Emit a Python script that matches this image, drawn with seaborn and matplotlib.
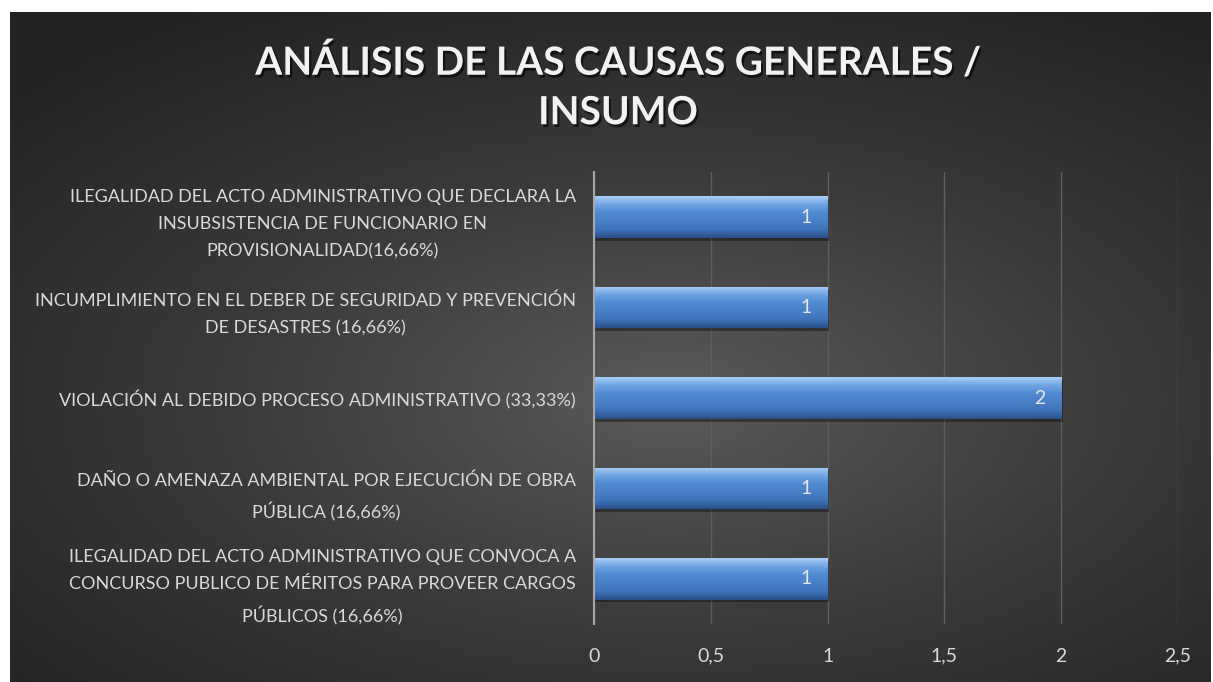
import numpy as np
import pandas as pd
import seaborn as sns
import matplotlib.pyplot as plt
import matplotlib.patheffects as pe
from matplotlib.colors import LinearSegmentedColormap

# Data
causas = [
    "ILEGALIDAD DEL ACTO ADMINISTRATIVO QUE DECLARA LA\nINSUBSISTENCIA DE FUNCIONARIO EN\nPROVISIONALIDAD(16,66%)",
    "INCUMPLIMIENTO EN EL DEBER DE SEGURIDAD Y PREVENCIÓN\nDE DESASTRES (16,66%)",
    "VIOLACIÓN AL DEBIDO PROCESO ADMINISTRATIVO (33,33%)",
    "DAÑO O AMENAZA AMBIENTAL POR EJECUCIÓN DE OBRA\nPÚBLICA (16,66%)",
    "ILEGALIDAD DEL ACTO ADMINISTRATIVO QUE CONVOCA A\nCONCURSO PUBLICO DE MÉRITOS PARA PROVEER CARGOS\nPÚBLICOS (16,66%)",
]
cantidad = [1, 1, 2, 1, 1]
x_ticks = [0, 0.5, 1, 1.5, 2, 2.5]
x_tick_labels = ["0", "0,5", "1", "1,5", "2", "2,5"]
titulo = "ANÁLISIS DE LAS CAUSAS GENERALES /\nINSUMO"

df = pd.DataFrame({"causa": causas, "cantidad": cantidad})

sns.set_theme(style="dark")
plt.rcParams["font.family"] = ["Lato", "DejaVu Sans"]
text_col = "#d9d9d9"

W, H = 1213, 682
fig = plt.figure(figsize=(W / 100, H / 100), dpi=100, facecolor="white")

# dark radial gradient background of the chart area
bg_ax = fig.add_axes([10 / W, 0, 1201 / W, 670 / H], zorder=-10)
yy, xx = np.mgrid[0:1:300j, 0:1:500j]
dist = np.sqrt(((xx - 0.55) * 1.0) ** 2 + ((yy - 0.58) * 1.1) ** 2)
dist = np.clip(dist / 0.75, 0, 1)
bg_cmap = LinearSegmentedColormap.from_list("bg", ["#5a5a5a", "#3a3a3a", "#232323"])
bg_ax.imshow(dist, cmap=bg_cmap, aspect="auto", extent=(0, 1, 0, 1), origin="upper")
bg_ax.set_axis_off()

ax = fig.add_axes([594 / W, 1 - 624 / H, (1178 - 594) / W, (624 - 172) / H])
ax.set_facecolor("none")

sns.barplot(data=df, x="cantidad", y="causa", orient="h", width=0.46,
            color="#4f86cf", ax=ax, zorder=3)

ax.set_xlim(0, 2.5)
xlim = ax.get_xlim()
ylim = ax.get_ylim()

# blue bevel-like gradient inside each bar
bar_cmap = LinearSegmentedColormap.from_list(
    "bar", ["#a9cff7", "#6fa3e3", "#5089d2", "#4a80c8", "#3e72b9", "#2a5089"])
grad = np.linspace(0, 1, 100).reshape(-1, 1)
for i, patch in enumerate(ax.patches):
    x0, y0 = patch.get_x(), patch.get_y()
    w, h = patch.get_width(), patch.get_height()
    patch.set_edgecolor("none")
    patch.set_path_effects([pe.SimplePatchShadow(offset=(1, -2), shadow_rgbFace="black", alpha=0.35),
                            pe.Normal()])
    im = ax.imshow(grad, cmap=bar_cmap, aspect="auto", origin="upper",
                   extent=(x0, x0 + w, y0 + h, y0), zorder=4)
    im.set_clip_path(patch)
    ax.text(x0 + w - 0.09, y0 + h / 2, f"{cantidad[i]}",
            color="#e6e6e6", fontsize=14, ha="center", va="center", zorder=5)

ax.set_xlim(xlim)
ax.set_ylim(ylim)

ax.set_xticks(x_ticks)
ax.set_xticklabels(x_tick_labels)
ax.xaxis.grid(True, color="#5e5e5e", linewidth=1)
ax.yaxis.grid(False)
ax.set_axisbelow(True)
for s in ["top", "right", "bottom"]:
    ax.spines[s].set_visible(False)
ax.spines["left"].set_color("#a6a6a6")
ax.spines["left"].set_linewidth(1.5)
ax.spines["left"].set_zorder(6)
ax.tick_params(axis="x", colors=text_col, labelsize=14, length=0, pad=17)
ax.tick_params(axis="y", colors=text_col, labelsize=13, length=0, pad=13)
for lbl in ax.get_yticklabels():
    lbl.set_multialignment("center")
    lbl.set_linespacing(1.85)
ax.set_xlabel("")
ax.set_ylabel("")

fig.text(618 / W, 1 - 87 / H, titulo, color="#f2f2f2", fontsize=28, fontweight="bold",
         ha="center", va="center", linespacing=1.5,
         path_effects=[pe.withSimplePatchShadow(offset=(1.5, -2), shadow_rgbFace="black", alpha=0.6)])

fig.savefig("out.png", dpi=100, facecolor=fig.get_facecolor())
